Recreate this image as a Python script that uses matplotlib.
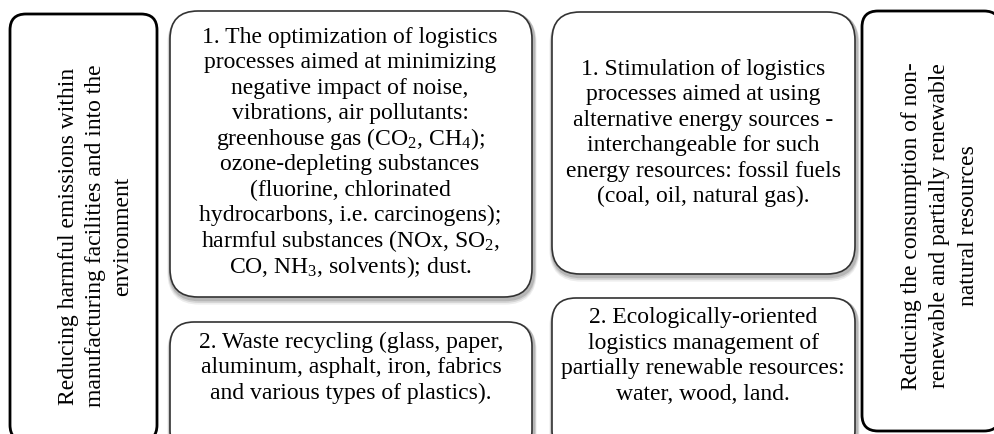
import matplotlib
matplotlib.use('Agg')
import matplotlib.pyplot as plt
from matplotlib.patches import FancyBboxPatch

plt.rcParams['font.family'] = ['Liberation Serif', 'DejaVu Serif']
plt.rcParams['mathtext.fontset'] = 'custom'
plt.rcParams['mathtext.rm'] = 'Liberation Serif'
plt.rcParams['mathtext.it'] = 'Liberation Serif:italic'

# side captions (rotated)
left_caption = ['Reducing harmful emissions within',
                'manufacturing facilities and into the',
                'environment']
right_caption = ['Reducing the consumption of non-',
                 'renewable and partially renewable',
                 'natural resources']

# inner boxes
box1_lines = ['1. The optimization of logistics',
              'processes aimed at minimizing',
              'negative impact of noise,',
              'vibrations, air pollutants:',
              r'greenhouse gas (CO$_2$, CH$_4$);',
              'ozone-depleting substances',
              '(fluorine, chlorinated',
              'hydrocarbons, i.e. carcinogens);',
              r'harmful substances (NOx, SO$_2$,',
              r'CO, NH$_3$, solvents); dust.']
box2_lines = ['2. Waste recycling (glass, paper,',
              'aluminum, asphalt, iron, fabrics',
              'and various types of plastics).']
box3_lines = ['1. Stimulation of logistics',
              'processes aimed at using',
              'alternative energy sources -',
              'interchangeable for such',
              'energy resources: fossil fuels',
              '(coal, oil, natural gas).']
box4_lines = ['2. Ecologically-oriented',
              'logistics management of',
              'partially renewable resources:',
              'water, wood, land.']

W, H = 995, 435
FS = 17
LINE = 25.5

fig = plt.figure(figsize=(W / 100, H / 100), dpi=100)
ax = fig.add_axes([0, 0, 1, 1])
ax.set_xlim(0, W)
ax.set_ylim(H, 0)
ax.axis('off')


def rbox(x0, y0, x1, y1, r, lw, color, shadow=False):
    # soft drop shadow under the inner boxes
    if shadow:
        for k, a in [(4, 0.07), (3, 0.1), (2, 0.14)]:
            sh = FancyBboxPatch((x0 + 1, y0 + k), x1 - x0, y1 - y0,
                                boxstyle=f'round,pad=0,rounding_size={r}',
                                fc='none', ec='black', lw=lw + k, alpha=a, zorder=1)
            ax.add_patch(sh)
    p = FancyBboxPatch((x0, y0), x1 - x0, y1 - y0,
                       boxstyle=f'round,pad=0,rounding_size={r}',
                       fc='white', ec=color, lw=lw, zorder=2)
    ax.add_patch(p)


def lines_block(lines, cx, cy):
    n = len(lines)
    for i, s in enumerate(lines):
        y = cy + (i - (n - 1) / 2) * LINE
        ax.text(cx, y, s, ha='center', va='center', fontsize=FS, zorder=3)


def lines_rot(lines, cx, cy, step):
    n = len(lines)
    for i, s in enumerate(lines):
        x = cx + (i - (n - 1) / 2) * step
        ax.text(x, cy, s, ha='center', va='center', rotation=90,
                fontsize=FS, zorder=3)


# outer side boxes
rbox(10, 15, 157, 442, 16, 2.0, 'black')
rbox(862, 12, 1000, 432, 16, 2.0, 'black')

# inner boxes
rbox(170, 12, 532, 298, 28, 1.2, '#333333', shadow=True)
rbox(170, 323, 532, 455, 24, 1.2, '#333333', shadow=True)
rbox(552, 13, 855, 275, 28, 1.2, '#333333', shadow=True)
rbox(552, 299, 855, 455, 24, 1.2, '#333333', shadow=True)

lines_rot(left_caption, 96, 236, 27)
lines_rot(right_caption, 940, 226, 29)

lines_block(box1_lines, 350, 152)
lines_block(box2_lines, 351, 368)
lines_block(box3_lines, 703, 133)
lines_block(box4_lines, 703, 356)

fig.savefig('out.png', dpi=100)
